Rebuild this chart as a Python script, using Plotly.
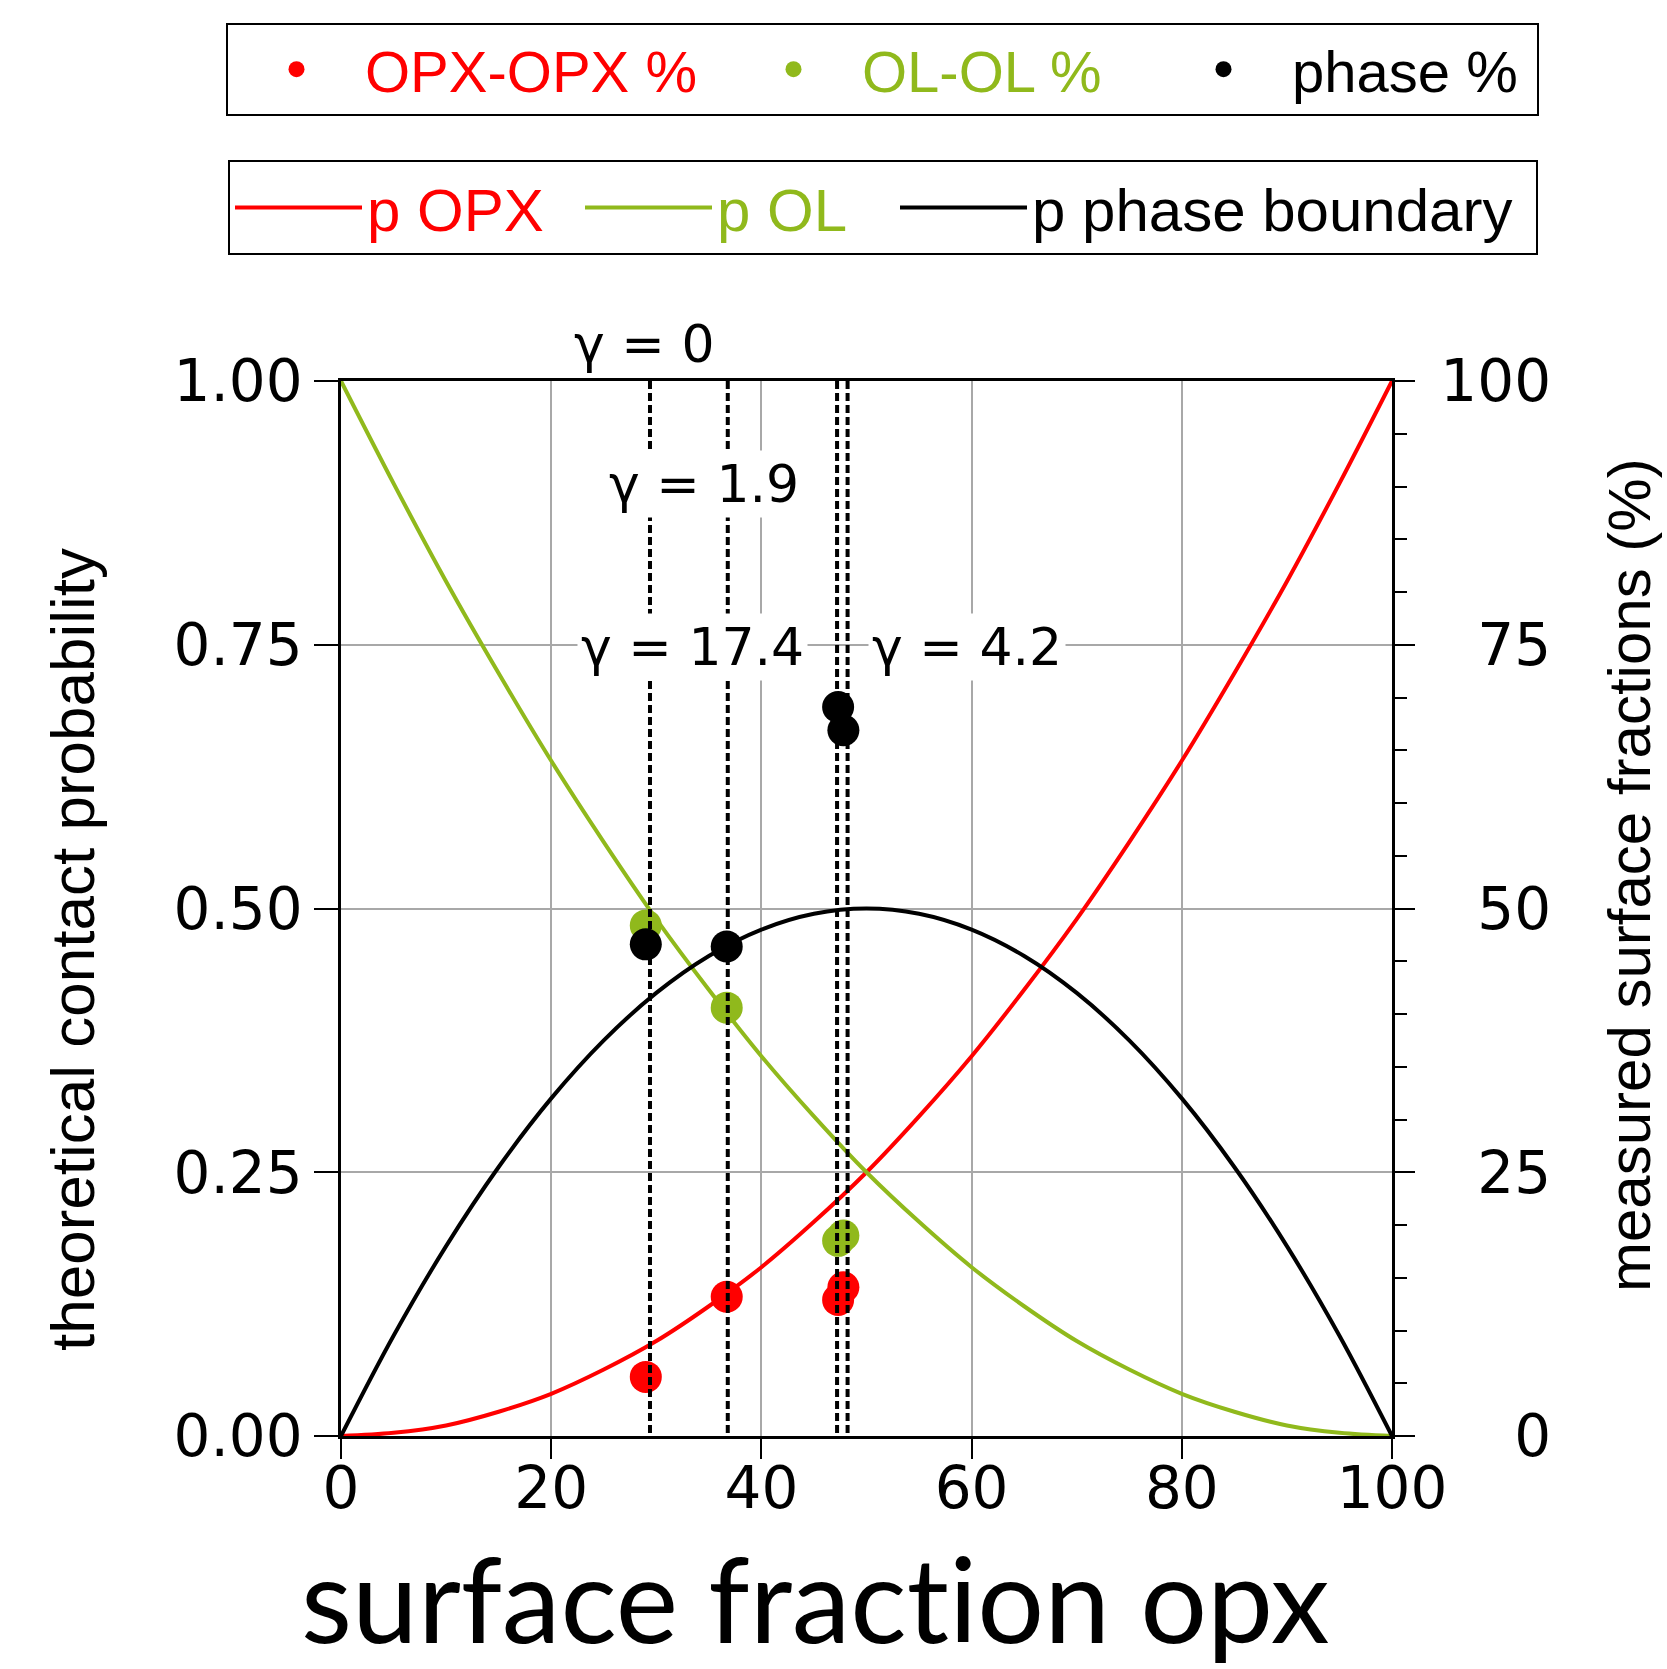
import plotly.graph_objects as go

# Theoretical contact probabilities against opx surface fraction (%)
frac = [0, 5, 10, 15, 20, 25, 30, 35, 40, 45, 50, 55, 60, 65, 70, 75, 80, 85, 90, 95, 100]
p_opx = [0.000, 0.003, 0.010, 0.023, 0.040, 0.063, 0.090, 0.123, 0.160, 0.203, 0.250,
         0.303, 0.360, 0.423, 0.490, 0.563, 0.640, 0.723, 0.810, 0.903, 1.000]
p_ol = [1.000, 0.903, 0.810, 0.723, 0.640, 0.563, 0.490, 0.423, 0.360, 0.303, 0.250,
        0.203, 0.160, 0.123, 0.090, 0.063, 0.040, 0.023, 0.010, 0.003, 0.000]
p_boundary = [0.000, 0.095, 0.180, 0.255, 0.320, 0.375, 0.420, 0.455, 0.480, 0.495, 0.500,
              0.495, 0.480, 0.455, 0.420, 0.375, 0.320, 0.255, 0.180, 0.095, 0.000]

# Measured samples (surface fraction opx, %)
sample_x = [29.0, 36.7, 47.3, 47.8]
opx_pct = [5.6, 13.2, 12.9, 14.1]
ol_pct = [48.4, 40.6, 18.5, 19.0]
phase_pct = [46.6, 46.4, 69.1, 66.9]

# Sample reference lines and their dihedral-angle labels
gamma_x = [29.4, 36.8, 47.2, 48.2]
gamma_labels = ["γ = 0", "γ = 1.9", "γ = 17.4", "γ = 4.2"]
gamma_label_x = [28.9, 34.5, 33.4, 59.6]
gamma_label_y = [1.035, 0.902, 0.748, 0.748]

# Axis ticks
x_ticks = [0, 20, 40, 60, 80, 100]
left_ticks = [0, 0.25, 0.5, 0.75, 1.0]
left_tick_text = ["0.00", "0.25", "0.50", "0.75", "1.00"]
right_ticks = [0, 25, 50, 75, 100]
right_tick_text = ["0", "25", "50", "75", "100"]

RED = "#ff0000"
GREEN = "#90b91c"
BLACK = "#000000"

W, H = 1667, 1669
L, R, T, B = 341, 1392, 381, 1436  # plot area in pixels


def px_x(p):
    return (p - L) / (R - L)


def px_y(p):
    return (B - p) / (B - T)


fig = go.Figure()

# theoretical curves (left axis)
for ys, col, name, lw in [(p_opx, RED, "p OPX", 208),
                          (p_ol, GREEN, "p OL", 173),
                          (p_boundary, BLACK, "p phase boundary", 499)]:
    fig.add_trace(go.Scatter(
        x=frac, y=ys, mode="lines", line=dict(color=col, width=4, shape="spline"),
        name=f'<span style="color:{col}">{name}</span>',
        legend="legend2", legendwidth=lw, yaxis="y"))

# measured fractions (right axis)
for ys, col, name, lw in [(opx_pct, RED, "OPX-OPX %", 355),
                          (ol_pct, GREEN, "OL-OL %", 288),
                          (phase_pct, BLACK, "phase %", 240)]:
    fig.add_trace(go.Scatter(
        x=sample_x, y=ys, mode="markers", marker=dict(color=col, size=32),
        name=f'<span style="color:{col}">{name}</span>',
        legend="legend", legendwidth=lw, yaxis="y2"))

# dashed sample lines
vx, vy = [], []
for gx in gamma_x:
    vx += [gx, gx, None]
    vy += [100, 0, None]
fig.add_trace(go.Scatter(x=vx, y=vy, mode="lines", yaxis="y2", showlegend=False,
                         line=dict(color=BLACK, width=4, dash="8px,4px")))

tick_font = dict(family="DejaVu Sans", size=58, color="black")

annotations = []
for gx, gy, gt in zip(gamma_label_x, gamma_label_y, gamma_labels):
    annotations.append(dict(x=gx, y=gy, xref="x", yref="paper", text=gt, showarrow=False,
                            xanchor="center", yanchor="middle",
                            font=dict(family="DejaVu Sans", size=52, color="black"),
                            bgcolor="white", borderpad=3))

# the "t" sits in its own run so the font does not fuse it with the following "i"
x_title = 'surface frac<span style="font-size:117.9px">t</span>ion opx'

annotations += [
    dict(x=px_x(72), y=px_y(950), xref="paper", yref="paper",
         xanchor="center", yanchor="middle",
         text="theoretical contact probability", textangle=-90, showarrow=False,
         font=dict(family="Liberation Sans", size=62, color="black")),
    dict(x=px_x(1629), y=px_y(875), xref="paper", yref="paper",
         xanchor="center", yanchor="middle",
         text="measured surface fractions (%)", textangle=-90, showarrow=False,
         font=dict(family="Liberation Sans", size=60, color="black")),
    dict(x=px_x(815), y=px_y(1597), xref="paper", yref="paper",
         xanchor="center", yanchor="middle",
         text=x_title, showarrow=False,
         font=dict(family="Lato", size=118, color="black")),
]

legend_common = dict(orientation="h", xanchor="left", yanchor="top",
                     bordercolor="black", borderwidth=2, bgcolor="white",
                     itemwidth=127, entrywidthmode="pixels")

fig.update_layout(
    width=W, height=H,
    margin=dict(l=L, r=W - R, t=T, b=H - B, autoexpand=False),
    paper_bgcolor="white", plot_bgcolor="white",
    showlegend=True,
    legend=dict(x=px_x(226), y=px_y(23),
                font=dict(family="Liberation Sans", size=58, color="black"),
                **legend_common),
    legend2=dict(x=px_x(228), y=px_y(160),
                 font=dict(family="Liberation Sans", size=60, color="black"),
                 **legend_common),
    xaxis=dict(range=[0, 100], tickvals=x_ticks, ticks="outside", ticklen=20,
               tickwidth=2, tickcolor="black", showline=True, linecolor="black",
               linewidth=2.5, mirror=True, showgrid=True, gridcolor="#a8a8a8",
               gridwidth=2, zeroline=False, tickfont=tick_font, ticklabelstandoff=-20),
    yaxis=dict(range=[0, 1], tickvals=left_ticks, ticktext=left_tick_text,
               ticks="outside", ticklen=24, tickwidth=2, tickcolor="black",
               showline=True, linecolor="black", linewidth=2.5, mirror=True,
               showgrid=True, gridcolor="#a8a8a8", gridwidth=2, zeroline=False,
               tickfont=tick_font, ticklabelstandoff=0),
    yaxis2=dict(range=[0, 100], overlaying="y", side="right", tickvals=right_ticks,
                ticktext=["\u2007" * (3 - len(t)) + t for t in right_tick_text],
                ticks="outside", ticklen=20, tickwidth=2, tickcolor="black",
                showline=True, linecolor="black", linewidth=2.5, showgrid=False,
                zeroline=False, tickfont=tick_font, ticklabelstandoff=14,
                minor=dict(dtick=5, ticks="outside", ticklen=12, tickwidth=2,
                           tickcolor="black", showgrid=False)),
    annotations=annotations,
)

fig.write_html("out.html")
